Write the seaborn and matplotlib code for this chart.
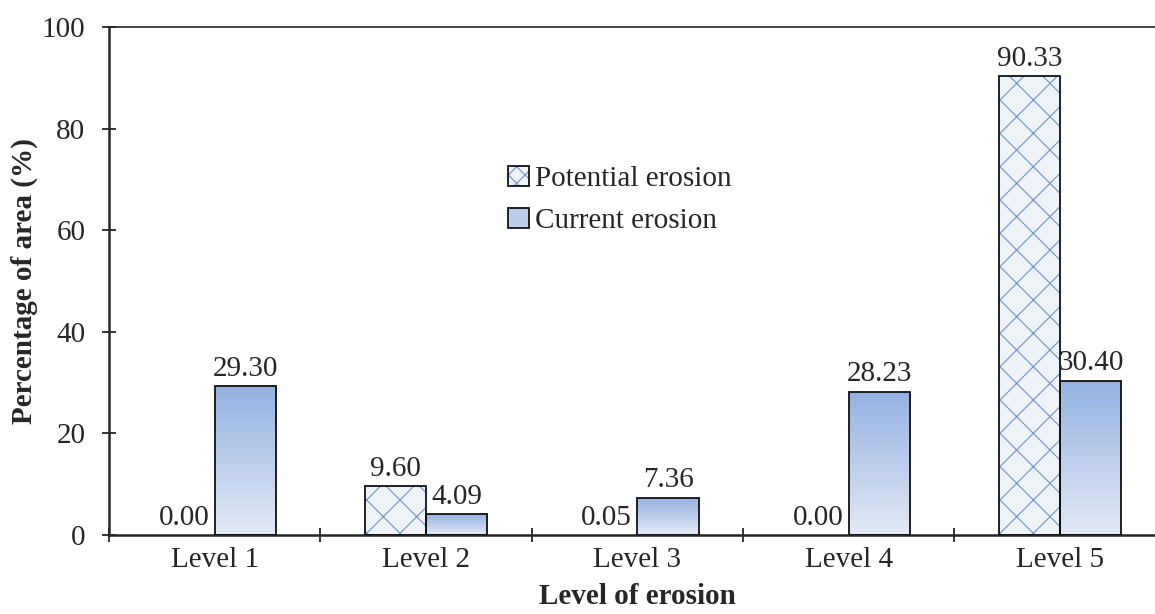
import numpy as np
import pandas as pd
import matplotlib
matplotlib.use("Agg")
import matplotlib.pyplot as plt
import seaborn as sns
from matplotlib.colors import LinearSegmentedColormap
from matplotlib.patches import Patch, Rectangle
from matplotlib.legend_handler import HandlerTuple

# =========================
# DATA
# =========================
levels = ["Level 1", "Level 2", "Level 3", "Level 4", "Level 5"]
potential = [0.00, 9.60, 0.05, 0.00, 90.33]
current = [29.30, 4.09, 7.36, 28.23, 30.40]
series = ["Potential erosion", "Current erosion"]

df = pd.DataFrame({
    "Level": levels * 2,
    "Value": potential + current,
    "Type": [series[0]] * 5 + [series[1]] * 5,
})

# =========================
# STYLE
# =========================
sns.set_style("ticks")
plt.rcParams["font.family"] = ["Liberation Serif", "DejaVu Serif"]
plt.rcParams["hatch.linewidth"] = 0.9

FS = 21
hatch_face = "#eef3f7"
hatch_col = "#7a9bcd"
grad_top = "#93b1e0"
grad_bot = "#e3eaf6"

fig = plt.figure(figsize=(11.55, 6.14), dpi=100)
ax = fig.add_axes([0.0944, 0.1287, 0.915, 0.8274])

sns.barplot(
    data=df, x="Level", y="Value", hue="Type",
    order=levels, hue_order=series,
    width=0.58, ax=ax, legend=False,
    palette=[hatch_face, grad_bot],
)

# potential bars: blue hatch + black outline
for bar in ax.containers[0]:
    bar.set_facecolor(hatch_face)
    bar.set_edgecolor(hatch_col)
    bar.set_hatch("x")
    bar.set_linewidth(0)
    if bar.get_height() > 0.5:
        ax.add_patch(Rectangle((bar.get_x(), bar.get_y()), bar.get_width(), bar.get_height(),
                               fill=False, edgecolor="#111111", linewidth=1.3, zorder=3))

# current bars: vertical gradient
cmap = LinearSegmentedColormap.from_list("grad", [grad_bot, grad_top])
grad = np.linspace(0, 1, 256).reshape(-1, 1)
for bar in ax.containers[1]:
    x0, y0 = bar.get_x(), bar.get_y()
    w, h = bar.get_width(), bar.get_height()
    im = ax.imshow(grad, cmap=cmap, extent=[x0, x0 + w, y0, y0 + h],
                   origin="lower", aspect="auto", zorder=1.5)
    im.set_clip_path(bar)
    bar.set_facecolor("none")
    bar.set_edgecolor("#111111")
    bar.set_linewidth(1.3)
    bar.set_zorder(3)

for cont in ax.containers:
    ax.bar_label(cont, fmt="%.2f", padding=3, fontsize=FS)

ax.set_xlim(-0.5, 4.5)
ax.set_ylim(0, 100)
ax.set_yticks([0, 20, 40, 60, 80, 100])
ax.set_xticks(range(5))
ax.set_xticks(np.arange(-0.5, 4.6, 1), minor=True)
ax.tick_params(axis="x", which="major", length=0, pad=9, labelsize=FS)
ax.tick_params(axis="x", which="minor", direction="inout", length=10, width=1.3)
ax.tick_params(axis="y", direction="inout", length=10, width=1.3, pad=12, labelsize=FS)

ax.set_xlabel("Level of erosion", fontsize=FS, fontweight="bold", labelpad=7)
ax.set_ylabel("Percentage of area (%)", fontsize=FS, fontweight="bold", labelpad=3)

for s in ["left", "bottom"]:
    ax.spines[s].set_linewidth(1.8)
ax.spines["top"].set_linewidth(1.2)
ax.spines["right"].set_visible(False)

# =========================
# LEGEND
# =========================
h1 = (Patch(facecolor=hatch_face, edgecolor=hatch_col, hatch="xx", linewidth=0),
      Patch(fill=False, edgecolor="#111111", linewidth=1.3))
h2 = Patch(facecolor="#bccdeb", edgecolor="#111111", linewidth=1.3)
ax.legend([h1, h2], series, handler_map={tuple: HandlerTuple(ndivide=1, pad=0)},
          loc="upper left", bbox_to_anchor=(0.364, 0.755), frameon=False,
          fontsize=FS, handlelength=0.7, handleheight=0.7,
          handletextpad=0.2, labelspacing=0.52, borderpad=0)

fig.savefig("out.png", dpi=100)
